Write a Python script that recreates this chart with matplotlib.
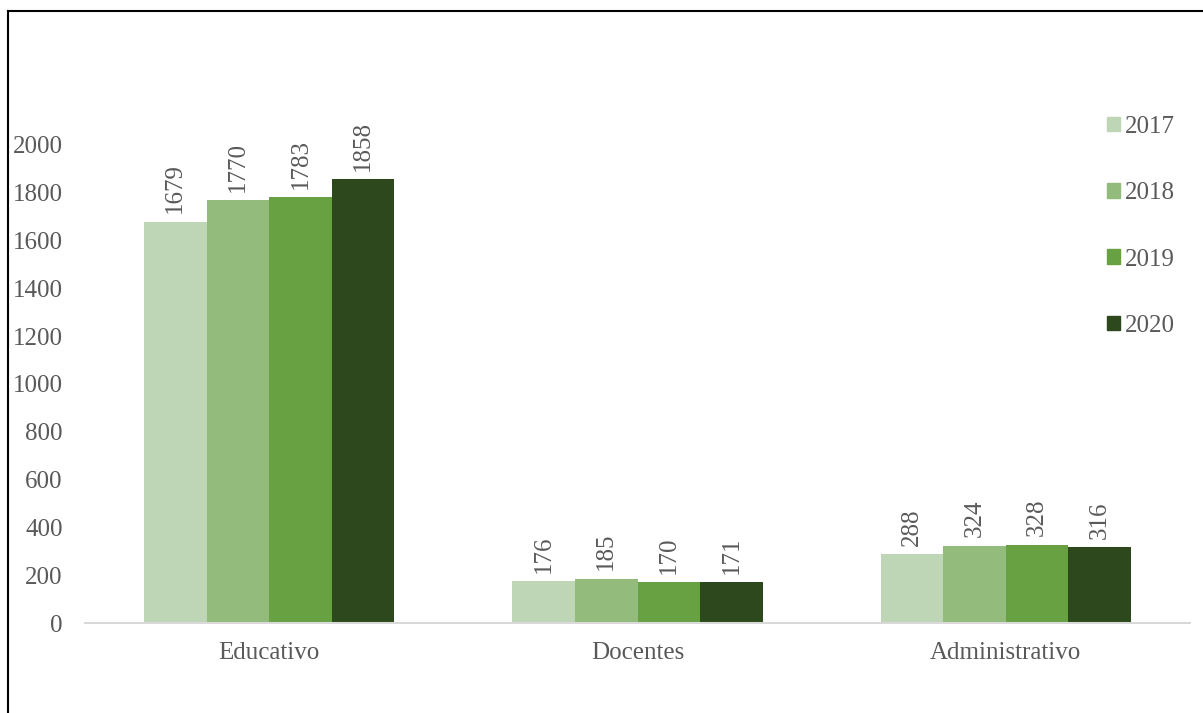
import numpy as np
import matplotlib
matplotlib.use('Agg')
import matplotlib.pyplot as plt
from matplotlib.lines import Line2D
from matplotlib.patches import Patch

categorias = ["Educativo", "Docentes", "Administrativo"]
anios = ["2017", "2018", "2019", "2020"]
v2017 = [1679, 176, 288]
v2018 = [1770, 185, 324]
v2019 = [1783, 170, 328]
v2020 = [1858, 171, 316]
colores = ["#BED6B5", "#92BB7C", "#68A142", "#2D481C"]

plt.rcParams['font.family'] = ['Liberation Serif', 'DejaVu Serif']
gris = "#595959"
fs = 18

W, H = 1203, 713
fig = plt.figure(figsize=(W / 100, H / 100), dpi=100)
ax = fig.add_axes([85 / W, 1 - 623 / H, (1190 - 85) / W, (623 - 145) / H])

series = [v2017, v2018, v2019, v2020]
x = np.arange(len(categorias))
ancho = 0.17
for i, (vals, col) in enumerate(zip(series, colores)):
    pos = x + (i - 1.5) * ancho
    bars = ax.bar(pos, vals, ancho, color=col, label=anios[i], zorder=2)
    for b, v in zip(bars, vals):
        ax.annotate(str(v), (b.get_x() + b.get_width() / 2, v),
                    xytext=(0, 6), textcoords="offset points",
                    rotation=90, ha="center", va="bottom",
                    fontsize=fs, color=gris, annotation_clip=False)

ax.set_xlim(-0.5, 2.5)
ax.set_ylim(0, 2000)
ax.set_yticks(range(0, 2001, 200))
ax.set_xticks(x)
ax.set_xticklabels(categorias)
ax.tick_params(axis="both", length=0, labelsize=fs, colors=gris)
ax.tick_params(axis="x", pad=14)
ax.tick_params(axis="y", pad=16)
for s in ["top", "right", "left"]:
    ax.spines[s].set_visible(False)
ax.spines["bottom"].set_color("#D9D9D9")
ax.spines["bottom"].set_linewidth(1.5)

handles = [Patch(color=c) for c in colores]
fig.legend(handles, anios, loc="upper left", bbox_to_anchor=(1107 / W, 1 - 116 / H),
           frameon=False, fontsize=fs, labelcolor=gris, labelspacing=1.77,
           handlelength=0.52, handleheight=0.52, handletextpad=0.2,
           borderpad=0, borderaxespad=0)

# marco
fig.add_artist(Line2D([8 / W, 1], [1 - 11 / H, 1 - 11 / H], color="black", lw=1.5))
fig.add_artist(Line2D([8 / W, 8 / W], [0, 1 - 11 / H], color="black", lw=1.5))

fig.savefig("out.png", dpi=100)
